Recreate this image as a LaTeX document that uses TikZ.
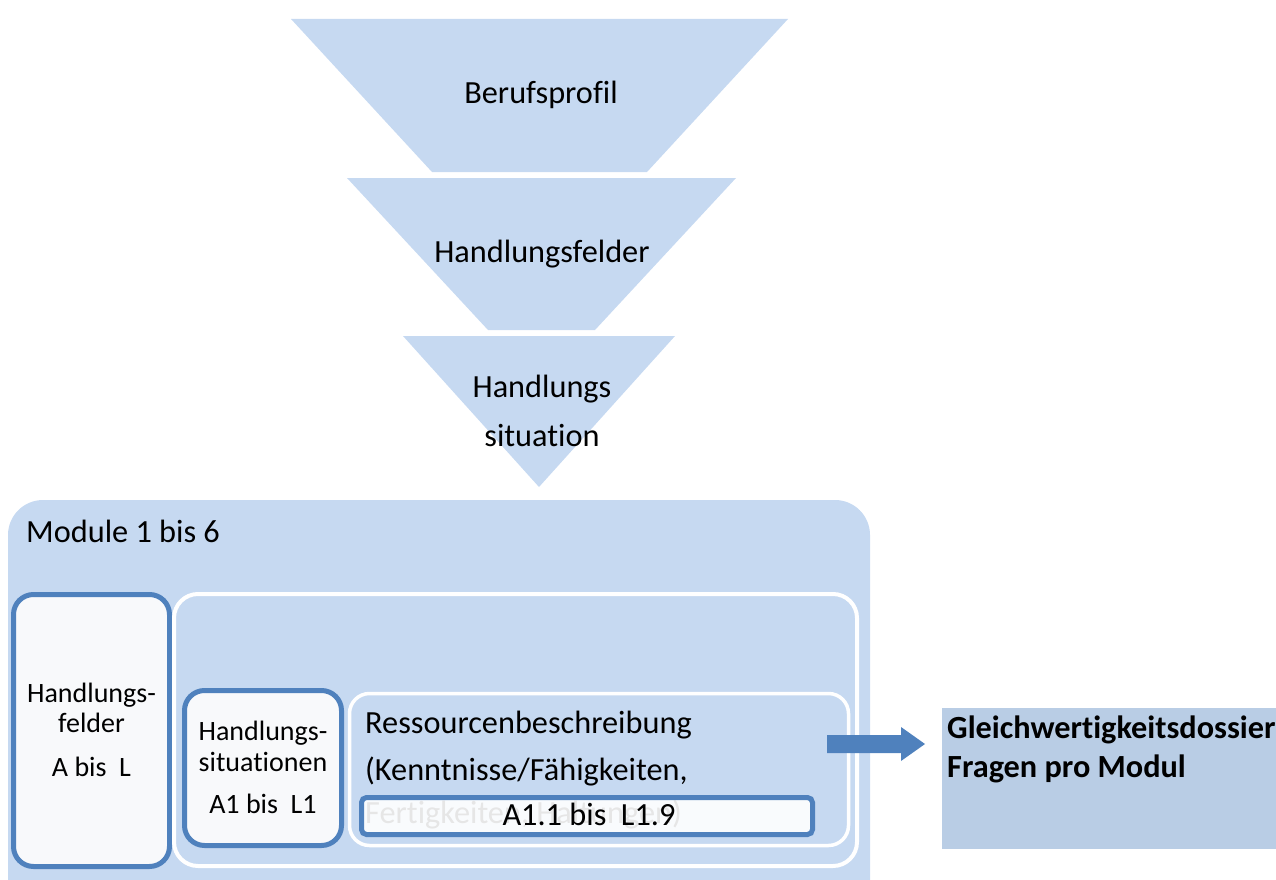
\documentclass[tikz,border=0pt]{standalone}
\usepackage{fontspec}
\setmainfont[Ligatures={NoCommon},Contextuals={NoAlternate},RawFeature={-calt}]{Carlito}
\definecolor{lblue}{HTML}{C6D9F1}
\definecolor{gblue}{HTML}{B9CDE5}
\definecolor{sblue}{HTML}{4F81BD}
\definecolor{nwhite}{HTML}{F8F9FB}
\begin{document}
\begin{tikzpicture}[x=1pt,y=-1pt,
  big/.style={font=\fontsize{32.3}{38}\selectfont},
  small/.style={font=\fontsize{28}{33}\selectfont},
  bluebox/.style={draw=sblue,line width=5pt,fill=nwhite,rounded corners=20pt},
  whitebox/.style={draw=white,fill=lblue,rounded corners=24pt},
  txt/.style={inner sep=0pt,anchor=base}]
\useasboundingbox (0,0) rectangle (1276,880);
\clip (0,0) rectangle (1276,880);
% funnel
\fill[lblue] (291,19) -- (788,19) -- (647,172) -- (432,172) -- cycle;
\fill[lblue] (347,178) -- (736,178) -- (595,330) -- (488,330) -- cycle;
\fill[lblue] (403,336) -- (675,336) -- (539,487) -- cycle;
\node[txt,big] (beruf) at (541,104) {Berufsprof{}il};
\node[txt,big] (hfeld) at (542,262) {Handlungsfelder};
\node[txt,big] (hs1) at (542,397) {Handlungs};
\node[txt,big] (hs2) at (542,446) {sit{}uation};
% module box
\fill[lblue,rounded corners=35pt] (8,500) rectangle (870,920);
\node[txt,big,anchor=base west] (mod) at (26,542) {Module 1 bis 6};
% left box
\draw[bluebox] (13.5,594.5) rectangle (169.5,866.5);
\node[txt,small] (f1) at (91.5,702) {Handlungs-};
\node[txt,small] (f2) at (91.5,732) {felder};
\node[txt,small] (f3) at (91.5,776) {A bis~~L};
% middle box
\draw[whitebox,line width=4pt] (174,594) rectangle (857,866);
% situation box
\draw[bluebox] (184.5,690.5) rectangle (341.5,845.5);
\node[txt,small] (s1) at (263,740) {Handlungs-};
\node[txt,small] (s2) at (263,771) {sit{}uat{}ionen};
\node[txt,small] (s3) at (263,813) {A1 bis~~L1};
% ressourcen box
\draw[whitebox,line width=3.5pt,rounded corners=20pt] (349.5,693.5) rectangle (848.5,845.5);
\node[txt,big,anchor=base west] (r1) at (365,733) {Ressourcenbeschreibung};
\node[txt,big,anchor=base west] (r2) at (365,780) {(Kenntnisse/Fähigkeiten,};
\node[txt,big,anchor=base west] (r3) at (365,823) {Fert{}igkeiten, Haltungen)};
\draw[draw=sblue,line width=5pt,fill=white,fill opacity=0.9,rounded corners=5pt] (361.5,797.5) rectangle (812.5,834.5);
\node[txt,big] (a11) at (589,825) {A1.1 bis~~L1.9};
% arrow
\fill[sblue] (827,735) -- (901,735) -- (901,727) -- (925,744) -- (901,761) -- (901,753) -- (827,753) -- cycle;
% target box
\fill[gblue] (942,708) rectangle (1276,849);
\node[txt,big,anchor=base west,font=\fontsize{32.3}{38}\selectfont\bfseries] (g1) at (947,738) {Gleichwert{}igkeitsdossier};
\node[txt,big,anchor=base west,font=\fontsize{32.3}{38}\selectfont\bfseries] (g2) at (947,777) {Fragen pro Modul};
\end{tikzpicture}
\end{document}
